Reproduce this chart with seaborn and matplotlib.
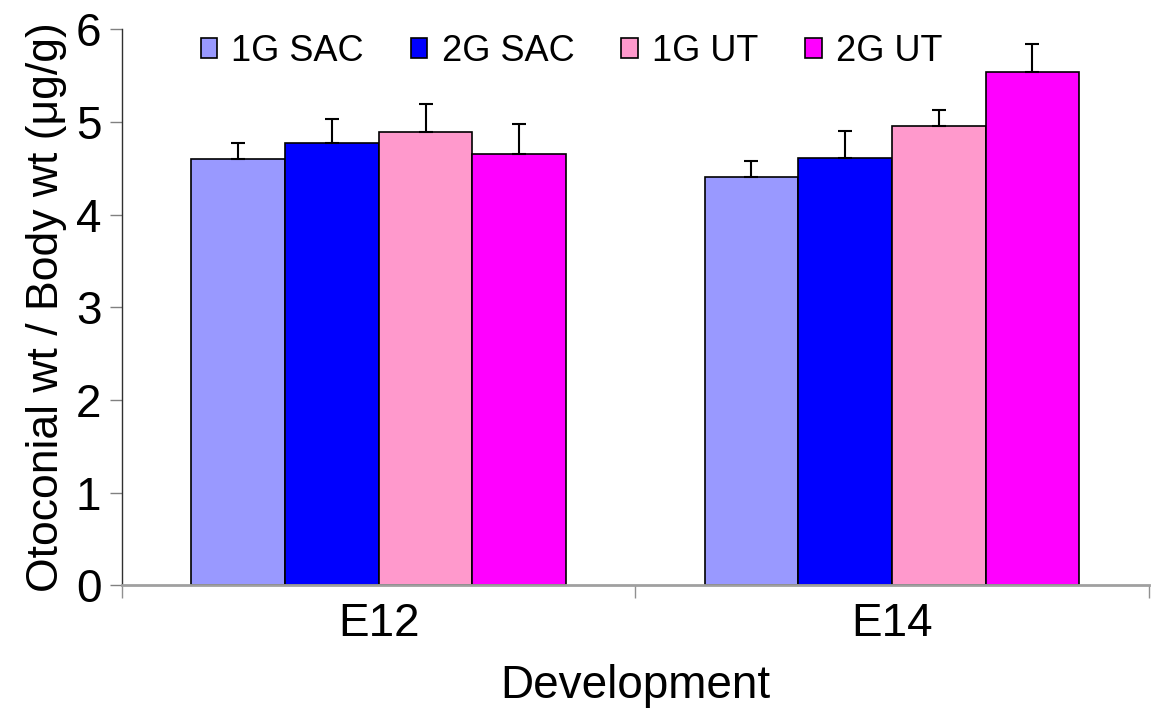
import seaborn as sns
import matplotlib.pyplot as plt
import numpy as np
import pandas as pd

# values
stages = ['E12', 'E14']
groups = ['1G SAC', '2G SAC', '1G UT', '2G UT']
means_e12 = [4.60, 4.77, 4.89, 4.65]
means_e14 = [4.40, 4.61, 4.96, 5.54]
sem_e12 = [0.17, 0.26, 0.30, 0.33]
sem_e14 = [0.18, 0.29, 0.17, 0.30]
colors = ['#9999ff', '#0000ff', '#ff99cc', '#ff00ff']

rows = []
for st, m, s in zip(stages, [means_e12, means_e14], [sem_e12, sem_e14]):
    for g, mv, sv in zip(groups, m, s):
        rows.append({'stage': st, 'group': g, 'value': mv, 'err': sv})
df = pd.DataFrame(rows)

sns.set_style('white')
plt.rcParams['font.family'] = ['Liberation Sans', 'DejaVu Sans']
plt.rcParams['text.color'] = 'black'
plt.rcParams['xtick.labelcolor'] = 'black'
plt.rcParams['ytick.labelcolor'] = 'black'
plt.rcParams['axes.labelcolor'] = 'black'

fig, ax = plt.subplots(figsize=(11.52, 7.12), dpi=100)
fig.subplots_adjust(left=0.106, right=0.997, top=0.959, bottom=0.178)

sns.barplot(data=df, x='stage', y='value', hue='group', order=stages, hue_order=groups,
            palette=colors, width=0.73, errorbar=None, edgecolor='black', linewidth=1.2,
            saturation=1, ax=ax)

# upper-only error bars placed on the drawn bars
for g, cont in zip(groups, ax.containers):
    sub = df[df.group == g].set_index('stage').loc[stages]
    xs = [b.get_x() + b.get_width() / 2 for b in cont]
    ax.errorbar(xs, sub['value'], yerr=[np.zeros(len(xs)), sub['err']], fmt='none',
                ecolor='black', elinewidth=1.5, capsize=5, capthick=1.5, zorder=3)

ax.set_ylim(0, 6)
ax.set_xlim(-0.5, 1.5)
ax.set_yticks(range(0, 7))
ax.set_xticks([-0.5, 0.5, 1.5], minor=True)
ax.tick_params(axis='x', which='major', length=0, labelsize=33, pad=12)
ax.tick_params(axis='x', which='minor', length=9, width=1, color='#909090', direction='out')
ax.tick_params(axis='y', length=9, width=1, color='#808080', direction='out', labelsize=33, pad=6)
ax.tick_params(bottom=True, left=True, which='both')

for sp in ['top', 'right']:
    ax.spines[sp].set_visible(False)
ax.spines['left'].set_color('#303030')
ax.spines['left'].set_linewidth(1)
ax.spines['bottom'].set_color('#a0a0a0')
ax.spines['bottom'].set_linewidth(2)

ax.set_xlabel('Development', fontsize=33, labelpad=13)
ax.set_ylabel('Otoconial wt / Body wt (μg/g)', fontsize=32, labelpad=6)

leg = ax.legend(loc='upper left', bbox_to_anchor=(0.045, 1.05), ncol=4, frameon=False,
                fontsize=26, handlelength=0.45, handleheight=0.45, handletextpad=0.4,
                columnspacing=1.3)

plt.savefig('out.png', dpi=100)
